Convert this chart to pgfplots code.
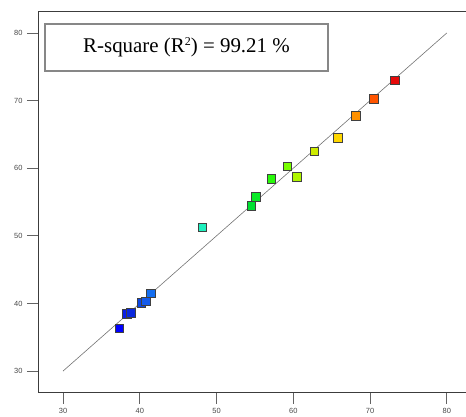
\documentclass[border=0pt]{standalone}
\usepackage{pgfplots}
\pgfplotsset{compat=1.18}
\usepackage{fontspec}
\setmainfont{Liberation Serif}
\newfontfamily\ticksfont{Liberation Sans}
\definecolor{spine}{RGB}{60,60,60}
\definecolor{boxgray}{RGB}{135,135,135}

% predicted vs actual, one colour per run
\pgfplotstableread{
x y c
37.34 36.31 a
38.30 38.46 b
38.83 38.61 c
40.21 40.09 d
40.78 40.30 e
41.47 41.52 f
48.16 51.27 g
54.51 54.47 h
55.16 55.75 i
57.12 58.46 j
59.20 60.28 k
60.47 58.70 l
62.73 62.50 m
65.81 64.52 n
68.16 67.71 o
70.50 70.22 p
73.24 72.98 q
}\runs

\begin{document}
\begin{tikzpicture}
\useasboundingbox (0,0) rectangle (466bp,417bp);
\begin{axis}[
    at={(38bp,24.3bp)}, anchor=south west,
    scale only axis,
    width=428bp, height=381.7bp,
    xmin=26.74, xmax=82.5,
    ymin=26.8, ymax=83.25,
    axis x line*=bottom, axis y line*=left,
    axis line style={spine, line width=0.8bp, -},
    xtick={30,40,...,80}, ytick={30,40,...,80},
    tick align=outside, major tick length=11bp,
    tick style={spine!80, line width=0.8bp},
    tick label style={font=\ticksfont\fontsize{7.5}{8}\selectfont, text=black!72},
    /pgf/number format/assume math mode=true,
    xticklabel style={yshift=-1bp},
    yticklabel style={xshift=-1bp},
    clip=false,
]
\draw[spine, line width=0.8bp] (rel axis cs:0,1) -- (rel axis cs:1,1);
\addplot[scatter, only marks, point meta=explicit symbolic,
    scatter/classes={
        a={fill={rgb,255:red,0;green,0;blue,255}},
        b={fill={rgb,255:red,10;green,30;blue,230}},
        c={fill={rgb,255:red,10;green,40;blue,220}},
        d={fill={rgb,255:red,10;green,70;blue,230}},
        e={fill={rgb,255:red,20;green,90;blue,235}},
        f={fill={rgb,255:red,20;green,110;blue,240}},
        g={fill={rgb,255:red,30;green,240;blue,190}},
        h={fill={rgb,255:red,0;green,225;blue,50}},
        i={fill={rgb,255:red,10;green,235;blue,40}},
        j={fill={rgb,255:red,40;green,250;blue,10}},
        k={fill={rgb,255:red,120;green,255;blue,0}},
        l={fill={rgb,255:red,175;green,245;blue,0}},
        m={fill={rgb,255:red,205;green,235;blue,0}},
        n={fill={rgb,255:red,255;green,215;blue,0}},
        o={fill={rgb,255:red,255;green,145;blue,0}},
        p={fill={rgb,255:red,255;green,85;blue,0}},
        q={fill={rgb,255:red,230;green,10;blue,10}}},
    mark=square*, mark size=4.3bp,
    mark options={draw=black!75, line width=0.7bp}]
    table[x=x, y=y, meta=c] {\runs};
\addplot[black!55, line width=0.6bp, no marks] coordinates {(30,30) (80,80)};
\end{axis}
\node[draw=boxgray, line width=1.6bp, fill=white, minimum width=283bp,
    minimum height=47bp, inner sep=0pt, font=\fontsize{21}{24}\selectfont]
    at (186.5bp,369.5bp) {R-square (R\raisebox{7.5bp}{\fontsize{12}{12}\selectfont 2}) = 99.21 \%};
\end{tikzpicture}
\end{document}
